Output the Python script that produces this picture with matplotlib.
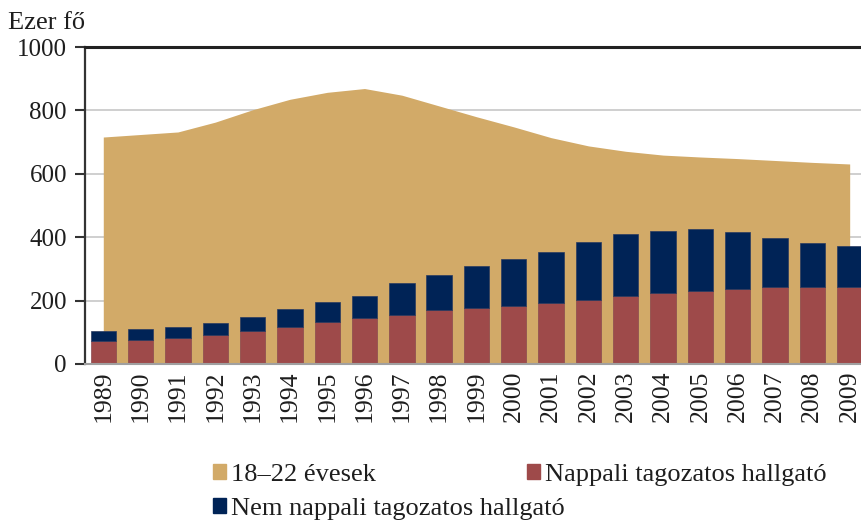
import matplotlib.pyplot as plt
from matplotlib.patches import Patch

plt.rcParams['font.family'] = ['Liberation Serif', 'DejaVu Serif']
plt.rcParams['text.color'] = '#1e1e1e'
plt.rcParams['xtick.labelcolor'] = '#1e1e1e'
plt.rcParams['ytick.labelcolor'] = '#1e1e1e'

years = ['1989', '1990', '1991', '1992', '1993', '1994', '1995', '1996', '1997', '1998',
         '1999', '2000', '2001', '2002', '2003', '2004', '2005', '2006', '2007', '2008', '2009']
# 18-22 evesek (ezer fo)
korosztaly = [716, 724, 732, 763, 802, 835, 857, 869, 848, 814,
              780, 748, 714, 688, 671, 659, 653, 648, 642, 636, 631]
# nappali tagozatos hallgato
nappali = [71, 76, 83, 92, 104, 118, 132, 145, 156, 170,
           177, 183, 191, 202, 213, 224, 230, 238, 242, 242, 242]
# nem nappali tagozatos hallgato
nem_nappali = [32, 34, 34, 37, 43, 54, 64, 70, 100, 112,
               131, 147, 161, 183, 196, 197, 195, 179, 157, 141, 131]

c_area = '#D2AA68'
c_red = '#9E4A4A'
c_navy = '#002356'

x = list(range(len(years)))

fig = plt.figure(figsize=(8.62, 5.24), dpi=100)
ax = fig.add_axes([85/862, 1-364/524, 1-85/862, (364-47)/524])

ax.fill_between(x, 0, korosztaly, color=c_area, lw=0, zorder=1)
ax.bar(x, nappali, width=0.68, color=c_red, edgecolor='#8a4a50', lw=0.5, zorder=2)
ax.bar(x, nem_nappali, bottom=nappali, width=0.68, color=c_navy, edgecolor='#2a3a60', lw=0.5, zorder=2)

ax.set_xlim(-0.49, 20.33)
ax.set_ylim(0, 1000)
ax.set_yticks([0, 200, 400, 600, 800, 1000])
ax.set_xticks(x)
ax.set_xticklabels(years, rotation=90, fontsize=18.5)
ax.tick_params(axis='x', length=0, pad=5)
ax.tick_params(axis='y', labelsize=18, length=7, width=1.5, color='#333333', pad=6)

ax.set_axisbelow(True)
ax.grid(axis='y', color='#cccccc', lw=1.3)
ax.grid(axis='x', visible=False)

ax.spines['right'].set_visible(False)
ax.spines['top'].set_color('#222222')
ax.spines['top'].set_linewidth(2.2)
ax.spines['left'].set_color('#333333')
ax.spines['left'].set_linewidth(1.6)
ax.spines['bottom'].set_color('#a0a0a0')
ax.spines['bottom'].set_linewidth(1.5)

fig.text(8/862, 1-23/524, 'Ezer fő', fontsize=19, va='center', ha='left')

# legend, placed item by item like the original
items = [(Patch(color=c_area), '18–22 évesek', 213, 475),
         (Patch(color=c_red), 'Nappali tagozatos hallgató', 527, 475),
         (Patch(color=c_navy), 'Nem nappali tagozatos hallgató', 213, 509)]
for h, lab, px, py in items:
    fig.legend([h], [lab], loc='center left', bbox_to_anchor=(px/862, 1-py/524),
               frameon=False, fontsize=19, borderpad=0, borderaxespad=0,
               handlelength=0.5, handleheight=0.5, handletextpad=0.2)

fig.savefig('out.png', dpi=100)
